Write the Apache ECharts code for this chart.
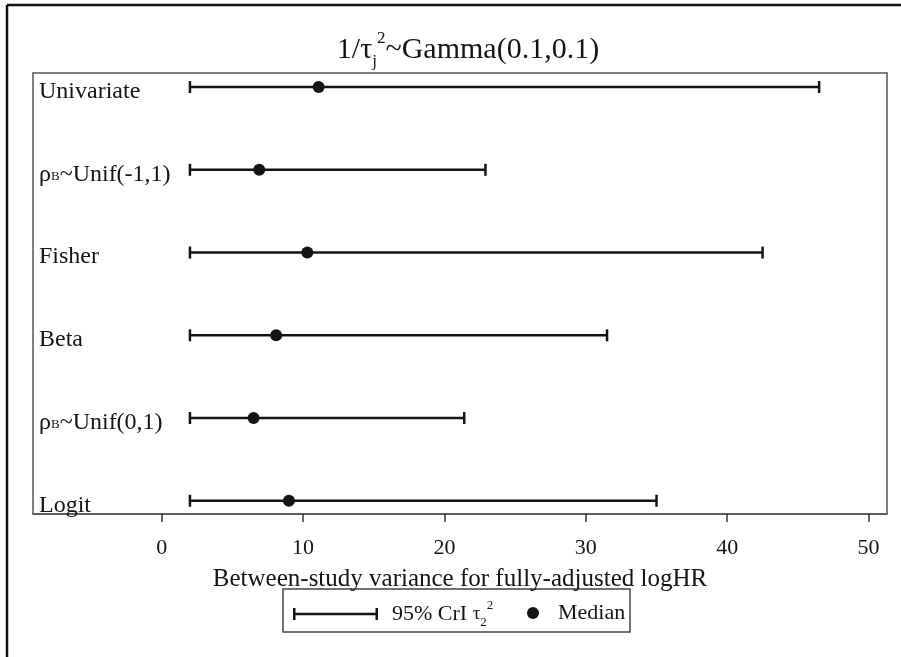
<!DOCTYPE html>
<html>
<head>
<meta charset="utf-8">
<script src="https://cdn.jsdelivr.net/npm/echarts@6/dist/echarts.min.js"></script>
<style>
  html, body { margin: 0; padding: 0; background: #fff; }
  #chart { width: 901px; height: 657px; }
</style>
</head>
<body>
<div id="chart"></div>
<script>
// data
const methods = ['Univariate', 'ρB~Unif(-1,1)', 'Fisher', 'Beta', 'ρB~Unif(0,1)', 'Logit']
const methodLabels = ['Univariate', '{r|ρ}{b|B}~Unif(-1,1)', 'Fisher', 'Beta', '{r|ρ}{b|B}~Unif(0,1)', 'Logit']
const lower = [2.0, 2.0, 2.0, 2.0, 2.0, 2.0]
const upper = [46.5, 22.9, 42.5, 31.5, 21.4, 35.0]
const median = [11.1, 6.9, 10.3, 8.1, 6.5, 9.0]
const xTicks = [0, 10, 20, 30, 40, 50]
const rows = [1, 2, 3, 4, 5, 6]

const serif = "'Liberation Serif', 'Times New Roman', serif"
const ink = '#141414'

const chart = echarts.init(document.getElementById('chart'))

// error bar: line with end caps
function renderBar(params, api) {
    const y = api.value(2)
    const a = api.coord([api.value(0), y])
    const b = api.coord([api.value(1), y])
    const h = 6
    const style = { stroke: ink, lineWidth: 2.5 }
    return {
        type: 'group',
        children: [
            { type: 'line', shape: { x1: a[0], y1: a[1], x2: b[0], y2: b[1] }, style },
            { type: 'line', shape: { x1: a[0], y1: a[1] - h, x2: a[0], y2: a[1] + h }, style },
            { type: 'line', shape: { x1: b[0], y1: b[1] - h, x2: b[0], y2: b[1] + h }, style }
        ]
    }
}

const option = {
    animation: false,
    backgroundColor: '#fff',
    title: {
        text: '1/τ{sub|j}{sup|2}~Gamma(0.1,0.1)',
        left: 463,
        top: 25,
        textAlign: 'center',
        textStyle: {
            fontFamily: serif,
            fontWeight: 'normal',
            fontSize: 30,
            lineHeight: 40,
            color: ink,
            rich: {
                sub: { fontFamily: serif, fontSize: 17, color: ink, verticalAlign: 'bottom', lineHeight: 40 },
                sup: { fontFamily: serif, fontSize: 17, color: ink, verticalAlign: 'top', lineHeight: 40 }
            }
        }
    },
    grid: {
        left: 33,
        right: 14,
        top: 73,
        bottom: 143,
        show: true,
        borderColor: '#555',
        borderWidth: 1.5
    },
    xAxis: {
        type: 'value',
        min: -9.1,
        max: 51.3,
        splitLine: { show: false },
        axisLine: { show: true, lineStyle: { color: '#555', width: 1.5 } },
        axisTick: { show: true, customValues: xTicks, length: 8, lineStyle: { color: '#333', width: 1.5 } },
        axisLabel: {
            customValues: xTicks,
            fontFamily: serif,
            fontSize: 22,
            color: ink,
            margin: 23
        },
        name: 'Between-study variance for fully-adjusted logHR',
        nameLocation: 'middle',
        nameGap: 53,
        nameTextStyle: { fontFamily: serif, fontSize: 25, color: ink }
    },
    yAxis: {
        type: 'value',
        inverse: true,
        min: 0.83,
        max: 6.16,
        splitLine: { show: false },
        axisLine: { show: false },
        axisTick: { show: false },
        axisLabel: {
            inside: true,
            customValues: rows,
            margin: 6,
            fontFamily: serif,
            fontSize: 24,
            color: ink,
            padding: [9, 0, 0, 0],
            formatter: (v) => methodLabels[Math.round(v) - 1],
            rich: {
                r: { fontFamily: serif, fontSize: 24, color: ink },
                b: { fontFamily: serif, fontSize: 13, color: ink, verticalAlign: 'bottom', padding: [0, 0, 3, 0] }
            }
        }
    },
    legend: [
        {
            left: 293,
            top: 599,
            padding: 0,
            selectedMode: false,
            itemWidth: 85,
            itemHeight: 12,
            data: [{ name: '95% CrI', icon: 'path://M0,0 H2.5 V4.75 H82.5 V0 H85 V12 H82.5 V7.25 H2.5 V12 H0 Z' }],
            formatter: () => '95% CrI {t|τ}{sub|2}{sup|2}',
            textStyle: {
                fontFamily: serif,
                fontSize: 22,
                color: ink,
                padding: [0, 0, 0, 9],
                lineHeight: 30,
                rich: {
                    t: { fontFamily: serif, fontSize: 19, color: ink, lineHeight: 30 },
                    sub: { fontFamily: serif, fontSize: 13, color: ink, verticalAlign: 'bottom', lineHeight: 30 },
                    sup: { fontFamily: serif, fontSize: 13, color: ink, verticalAlign: 'top', lineHeight: 30 }
                }
            }
        },
        {
            left: 527,
            top: 602,
            padding: 0,
            selectedMode: false,
            itemWidth: 12,
            itemHeight: 12,
            data: [{ name: 'Median', icon: 'circle' }],
            itemStyle: { opacity: 1 },
            textStyle: {
                fontFamily: serif,
                fontSize: 22,
                color: ink,
                padding: [0, 0, 0, 14]
            }
        }
    ],
    graphic: [
        // outer frame of the figure (top and left edges only)
        { type: 'line', shape: { x1: 7, y1: 5, x2: 901, y2: 5 }, style: { stroke: '#111', lineWidth: 2.5 } },
        { type: 'line', shape: { x1: 7, y1: 5, x2: 7, y2: 657 }, style: { stroke: '#111', lineWidth: 2.5 } },
        // legend box
        { type: 'rect', shape: { x: 283, y: 589, width: 347, height: 43 }, style: { fill: 'none', stroke: '#444', lineWidth: 1.5 } }
    ],
    series: [
        {
            name: '95% CrI',
            type: 'custom',
            renderItem: renderBar,
            itemStyle: { color: ink },
            encode: { x: [0, 1], y: 2 },
            data: lower.map((l, i) => [l, upper[i], rows[i]]),
            z: 2
        },
        {
            name: 'Median',
            type: 'scatter',
            symbol: 'circle',
            symbolSize: 12,
            itemStyle: { color: ink, opacity: 1 },
            data: median.map((m, i) => [m, rows[i]]),
            z: 3
        }
    ]
}

chart.setOption(option)
</script>
</body>
</html>
